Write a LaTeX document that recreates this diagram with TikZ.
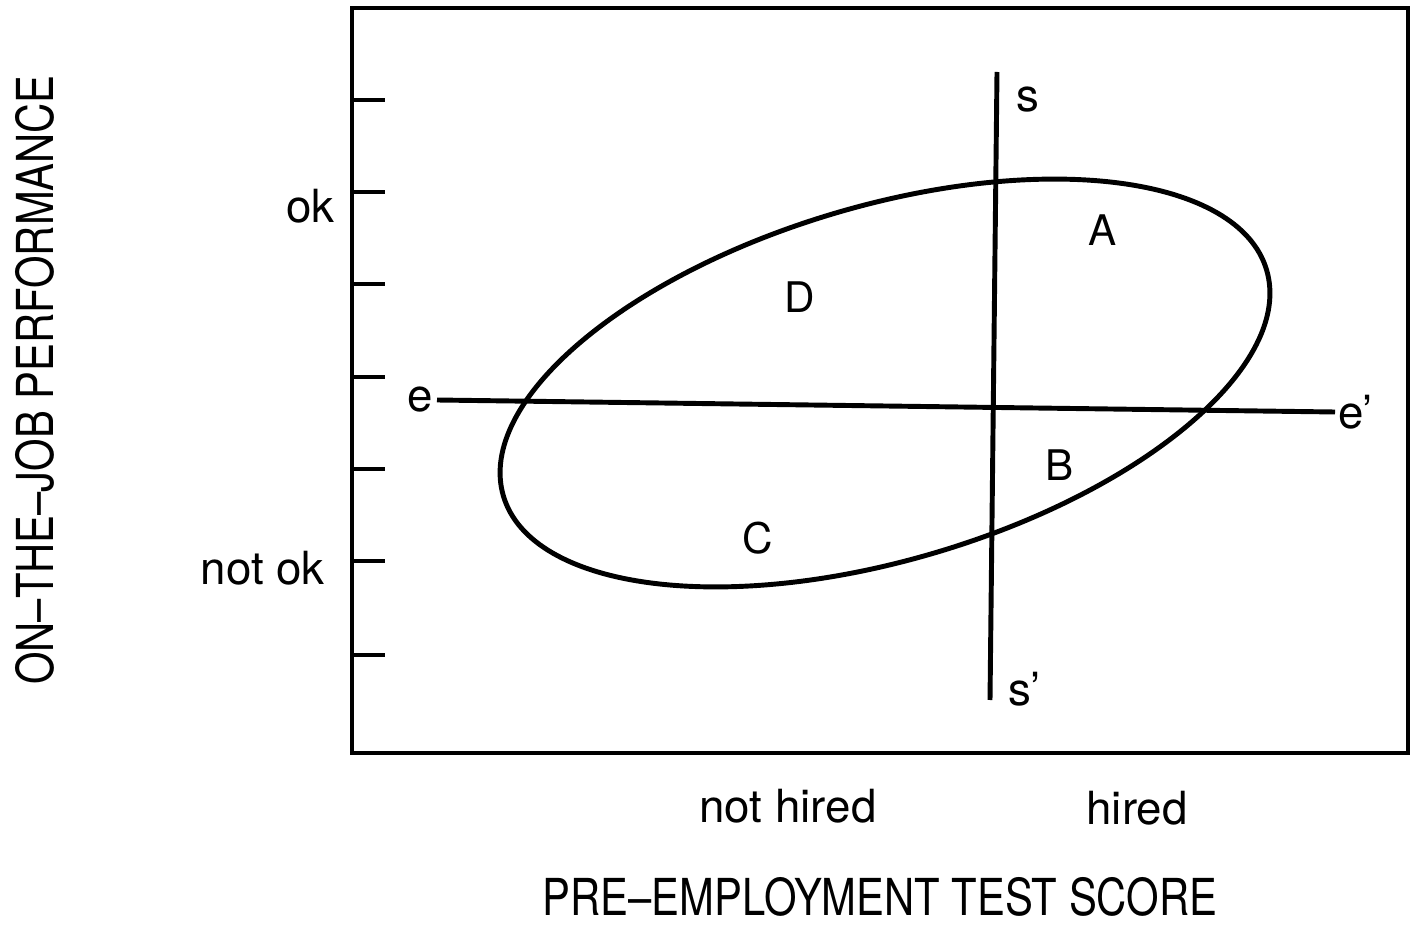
\documentclass[tikz,border=0pt]{standalone}
\usepackage{fontspec}
\setmainfont{TeX Gyre Heros}
\newfontfamily\plotcaps[FakeStretch=0.82,Ligatures=TeX]{TeX Gyre Heros}
\usetikzlibrary{positioning}

\begin{document}
\begin{tikzpicture}[
	axis/.style={ line width=2.3pt },
	cut/.style={ line width=2.8pt },
	lbl/.style={ inner sep=0pt, font=\fontsize{26}{30}\selectfont },
	region/.style={ inner sep=0pt, font=\fontsize{24}{28}\selectfont },
	title/.style={ inner sep=0pt, font=\plotcaps\fontsize{29}{34}\selectfont }
]
\useasboundingbox (0,0) rectangle (28.26,18.58);

\draw[axis] (7.04,3.52) rectangle (28.16,18.42);
\foreach \y in {16.58,14.74,12.90,11.04,9.20,7.36,5.48} \draw[axis] (7.04,\y) -- ++(0.66,0);

\node at (6.70,14.46) (ok) [lbl,anchor=east] {ok};
\node at (6.50,7.22) (notok) [lbl,anchor=east] {not ok};

\node at (0.70,10.98) (perf) [title,rotate=90] {ON\textendash THE\textendash JOB PERFORMANCE};
\node at (17.60,0.64) (score) [title] {PRE\textendash EMPLOYMENT TEST SCORE};
\node at (15.76,2.46) (nothired) [lbl] {not hired};
\node at (22.74,2.42) (hired) [lbl] {hired};

\draw[cut, rotate around={16.5:(17.70,10.92)}] (17.70,10.92) ellipse (7.96 and 3.54);

\coordinate (s1) at (19.94,17.14);
\coordinate (s2) at (19.80,4.58);
\draw[cut] (s1) -- (s2);
\node at (20.56,16.58) (s) [lbl] {s};
\node at (20.50,4.80) (sp) [lbl] {s'};

\coordinate (e1) at (8.74,10.58);
\coordinate (e2) at (26.70,10.34);
\draw[cut] (e1) -- (e2);
\node (e) [lbl,left=0.08 of e1] {e};
\node (ep) [lbl,right=0.06 of e2] {e'};

\node at (22.06,13.98) (A) [region] {A};
\node at (16.00,12.64) (D) [region] {D};
\node at (21.20,9.28) (B) [region] {B};
\node at (15.16,7.82) (C) [region] {C};

\end{tikzpicture}
\end{document}
